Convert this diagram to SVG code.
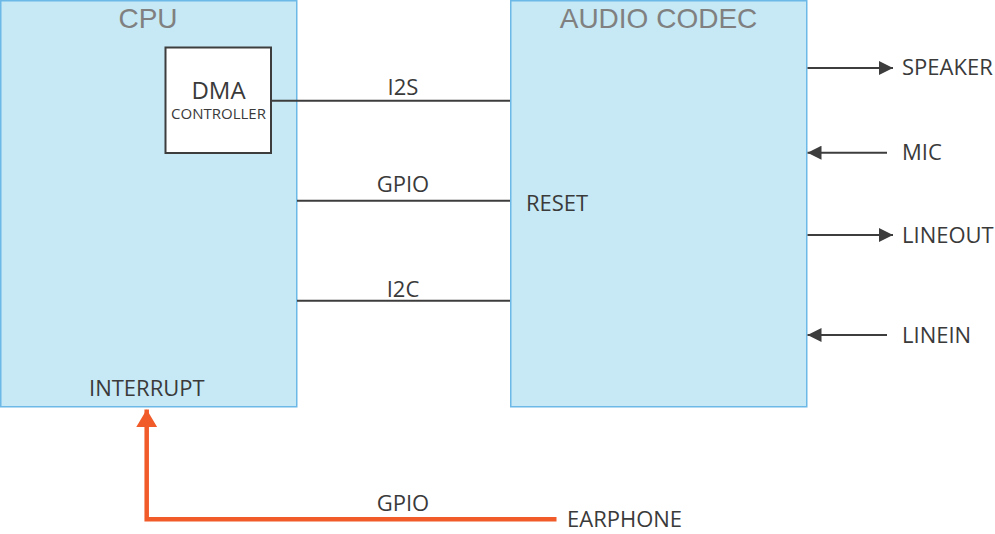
<svg xmlns="http://www.w3.org/2000/svg" width="995" height="534" viewBox="0 0 995 534">
<style>
.blk{fill:#c6e9f5;stroke:#6cb8e6;stroke-width:1.5}
.title{font-family:"Liberation Sans",Arial,sans-serif;font-size:28px;fill:#808080;text-anchor:middle}
.lbl{font-family:"Open Sans","Liberation Sans",sans-serif;font-size:22px;fill:#3a3a3a}
.mid{text-anchor:middle}
.wire{stroke:#3d3d3d;stroke-width:2;fill:none}
</style>
<defs>
<marker id="ah" viewBox="0 0 14 14" refX="14" refY="7" markerWidth="14" markerHeight="14" markerUnits="userSpaceOnUse" orient="auto">
<path d="M0,0 L14,7 L0,14 Z" fill="#3d3d3d"/>
</marker>
<marker id="ahO" viewBox="0 0 25 21" refX="21" refY="12.5" markerWidth="21" markerHeight="25" markerUnits="userSpaceOnUse" orient="auto">
<path d="M0,0 L21,12.5 L0,25 Z" fill="#f15a29"/>
</marker>
</defs>
<g id="cpu">
<rect class="blk" x="0.75" y="0.75" width="296" height="406"/>
<text class="title" x="148" y="28">CPU</text>
<text class="lbl" x="89" y="396">INTERRUPT</text>
</g>
<g id="dma">
<rect x="165.5" y="47.5" width="105.5" height="105.5" fill="#ffffff" stroke="#3d3d3d" stroke-width="2"/>
<text class="lbl mid" x="218.5" y="99" style="font-size:24px">DMA</text>
<text class="lbl mid" x="218.5" y="119" style="font-size:15px">CONTROLLER</text>
</g>
<g id="codec">
<rect class="blk" x="510.75" y="0.75" width="296" height="406"/>
<text class="title" x="658.5" y="28">AUDIO CODEC</text>
<text class="lbl" x="526" y="211">RESET</text>
</g>
<g id="connectors">
<line class="wire" x1="271" y1="100.7" x2="510" y2="100.7"/>
<line class="wire" x1="297" y1="200.7" x2="510" y2="200.7"/>
<line class="wire" x1="297" y1="300.7" x2="510" y2="300.7"/>
<line class="wire" x1="807.5" y1="68" x2="893" y2="68" marker-end="url(#ah)"/>
<line class="wire" x1="887" y1="152.7" x2="807.5" y2="152.7" marker-end="url(#ah)"/>
<line class="wire" x1="807.5" y1="235" x2="893" y2="235" marker-end="url(#ah)"/>
<line class="wire" x1="887" y1="335" x2="807.5" y2="335" marker-end="url(#ah)"/>
<path d="M556.5,519.3 H146.7 V409.5" fill="none" stroke="#f15a29" stroke-width="4.5" marker-end="url(#ahO)"/>
</g>
<g id="labels">
<text class="lbl mid" x="403" y="95">I2S</text>
<text class="lbl mid" x="403" y="192">GPIO</text>
<text class="lbl mid" x="403" y="297">I2C</text>
<text class="lbl mid" x="403" y="510.5">GPIO</text>
</g>
<g id="speaker"><text class="lbl" x="902" y="75">SPEAKER</text></g>
<g id="mic"><text class="lbl" x="902" y="160">MIC</text></g>
<g id="lineout"><text class="lbl" x="902" y="243">LINEOUT</text></g>
<g id="linein"><text class="lbl" x="902" y="343">LINEIN</text></g>
<g id="earphone"><text class="lbl" x="567" y="527">EARPHONE</text></g>
</svg>
